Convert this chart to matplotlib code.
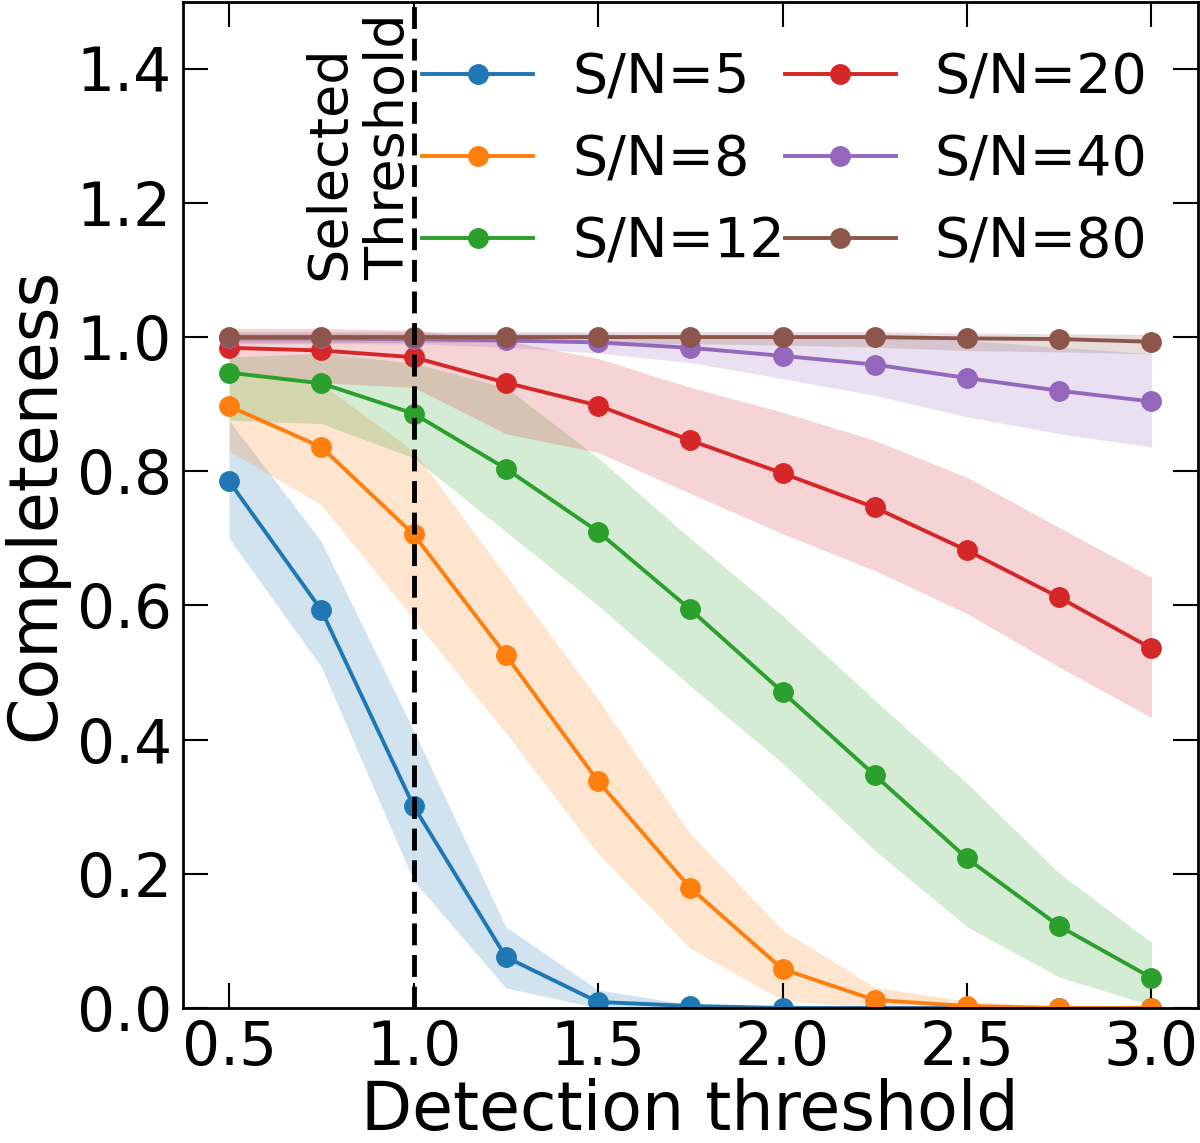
"""
Completeness vs detection threshold for several S/N levels.
"""

import matplotlib

matplotlib.use("Agg")
import matplotlib.pyplot as plt
import numpy as np

thresholds = [0.5, 0.75, 1.0, 1.25, 1.5, 1.75, 2.0, 2.25, 2.5, 2.75, 3.0]
sn_labels = ["S/N=5", "S/N=8", "S/N=12", "S/N=20", "S/N=40", "S/N=80"]

# mean completeness per S/N
comp_sn5 = [0.785, 0.593, 0.301, 0.076, 0.009, 0.003, 0.0, 0.0, 0.0, 0.0, 0.0]
comp_sn8 = [0.897, 0.836, 0.706, 0.526, 0.338, 0.179, 0.058, 0.012, 0.003, 0.0, 0.0]
comp_sn12 = [0.947, 0.931, 0.886, 0.804, 0.710, 0.594, 0.471, 0.347, 0.223, 0.122, 0.045]
comp_sn20 = [0.984, 0.980, 0.970, 0.932, 0.898, 0.846, 0.797, 0.746, 0.682, 0.612, 0.536]
comp_sn40 = [0.998, 0.998, 0.997, 0.995, 0.992, 0.984, 0.972, 0.959, 0.939, 0.920, 0.904]
comp_sn80 = [1.0, 1.0, 1.0, 1.0, 1.0, 1.0, 1.0, 1.0, 0.998, 0.997, 0.993]

# lower / upper envelope of the shaded bands
low_sn5 = [0.700, 0.508, 0.190, 0.030, 0.0, 0.0, 0.0, 0.0, 0.0, 0.0, 0.0]
high_sn5 = [0.876, 0.695, 0.414, 0.121, 0.027, 0.005, 0.0, 0.0, 0.0, 0.0, 0.0]
low_sn8 = [0.830, 0.750, 0.580, 0.410, 0.230, 0.089, 0.012, 0.0, 0.0, 0.0, 0.0]
high_sn8 = [0.950, 0.930, 0.830, 0.645, 0.460, 0.260, 0.116, 0.031, 0.010, 0.002, 0.0]
low_sn12 = [0.876, 0.871, 0.820, 0.710, 0.600, 0.480, 0.365, 0.235, 0.121, 0.046, 0.004]
high_sn12 = [0.970, 0.976, 0.961, 0.925, 0.820, 0.700, 0.585, 0.459, 0.335, 0.201, 0.098]
low_sn20 = [0.946, 0.932, 0.925, 0.856, 0.828, 0.767, 0.707, 0.652, 0.588, 0.508, 0.433]
high_sn20 = [1.013, 1.013, 1.010, 0.995, 0.968, 0.925, 0.888, 0.846, 0.791, 0.716, 0.642]
low_sn40 = [0.990, 0.990, 0.990, 0.985, 0.976, 0.962, 0.938, 0.913, 0.881, 0.856, 0.836]
high_sn40 = [1.005, 1.005, 1.005, 1.005, 1.005, 1.0, 1.0, 1.0, 0.995, 0.985, 0.975]
low_sn80 = [0.992, 0.992, 0.992, 0.992, 0.992, 0.990, 0.988, 0.985, 0.980, 0.978, 0.975]
high_sn80 = [1.008, 1.008, 1.008, 1.008, 1.008, 1.008, 1.008, 1.008, 1.006, 1.005, 1.004]

selected_threshold = 1.0

means = [comp_sn5, comp_sn8, comp_sn12, comp_sn20, comp_sn40, comp_sn80]
lows = [low_sn5, low_sn8, low_sn12, low_sn20, low_sn40, low_sn80]
highs = [high_sn5, high_sn8, high_sn12, high_sn20, high_sn40, high_sn80]
colors = ["tab:blue", "tab:orange", "tab:green", "tab:red", "tab:purple", "tab:brown"]


def main() -> None:
    plt.rcParams["font.family"] = "DejaVu Sans"
    plt.rcParams["font.size"] = 40

    fig = plt.figure(figsize=(12, 11.43), dpi=100)
    ax = fig.add_axes([0.1525, 0.1181, 0.8455, 0.8805])

    x = np.array(thresholds)
    for mean, lo, hi, col, lab in zip(means, lows, highs, colors, sn_labels):
        ax.fill_between(x, lo, hi, color=col, alpha=0.2, linewidth=0)
        ax.plot(x, mean, color=col, marker="o", markersize=14, linewidth=2.8, label=lab)

    ax.axvline(selected_threshold, color="black", linestyle="--", dashes=(4.5, 2.0),
               linewidth=3.5, zorder=5)
    ax.text(
        selected_threshold + 0.005,
        1.085,
        "Selected\nThreshold",
        rotation=90,
        ha="right",
        va="bottom",
        multialignment="left",
        fontsize=39,
    )

    ax.set_ylim(0, 1.5)
    ax.set_xticks([0.5, 1.0, 1.5, 2.0, 2.5, 3.0])
    ax.set_yticks([0.0, 0.2, 0.4, 0.6, 0.8, 1.0, 1.2, 1.4])
    ax.tick_params(direction="in", top=True, right=True, length=18, width=1.5, pad=8, labelsize=43)
    for sp in ax.spines.values():
        sp.set_linewidth(2)

    ax.set_xlabel("Detection threshold", fontsize=48, labelpad=0)
    ax.set_ylabel("Completeness", fontsize=48, labelpad=6)

    ax.legend(ncol=2, loc="upper right", frameon=False, columnspacing=0.0,
              handlelength=2.0, handletextpad=0.7, fontsize=40)

    fig.savefig("out.png", dpi=100)
    plt.close(fig)


if __name__ == "__main__":
    main()
